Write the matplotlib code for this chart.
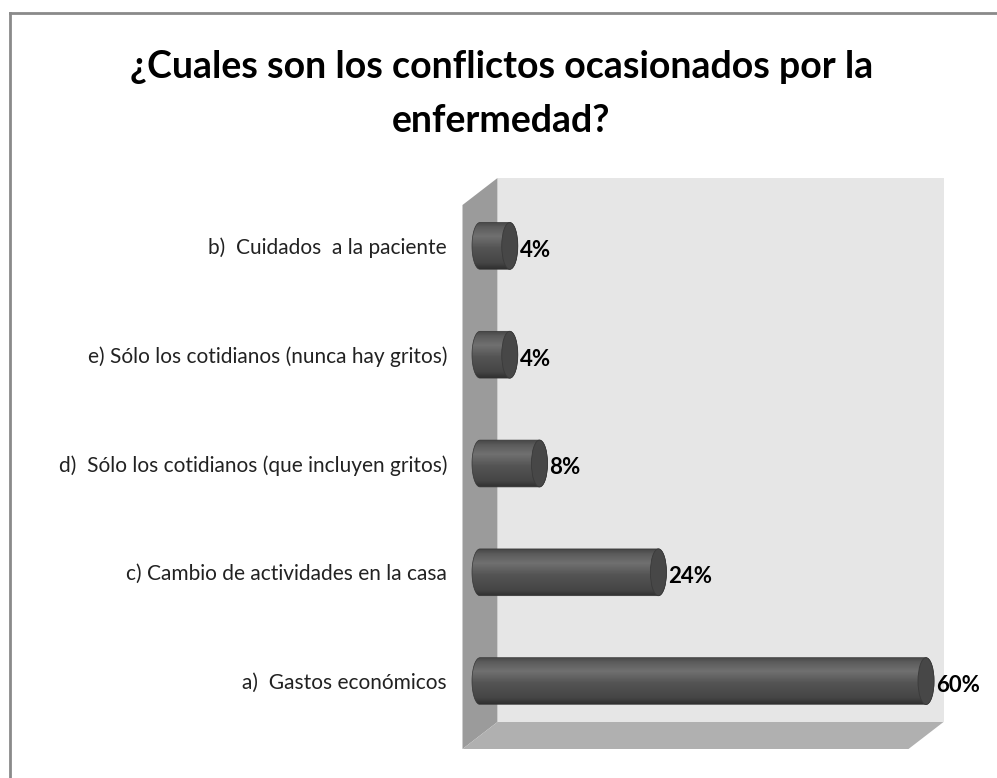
import numpy as np
import matplotlib.pyplot as plt
from matplotlib.patches import Polygon, Ellipse
from matplotlib.lines import Line2D

plt.rcParams['font.family'] = ['Lato', 'DejaVu Sans']

categorias = ['a)  Gastos económicos',
              'c) Cambio de actividades en la casa',
              'd)  Sólo los cotidianos (que incluyen gritos)',
              'e) Sólo los cotidianos (nunca hay gritos)',
              'b)  Cuidados  a la paciente']
porcentajes = [60, 24, 8, 4, 4]
titulo = ['¿Cuales son los conflictos ocasionados por la', 'enfermedad?']

W, H = 997, 778
fig = plt.figure(figsize=(W / 100, H / 100), dpi=100)
fig.patch.set_facecolor('white')

# marco gris arriba y a la izquierda
fig.add_artist(Line2D([10 / W, 1], [1 - 13 / H, 1 - 13 / H], color='#8a8a8a', lw=2))
fig.add_artist(Line2D([10 / W, 10 / W], [0, 1 - 13 / H], color='#8a8a8a', lw=2))

for linea, yb in zip(titulo, [78, 132]):
    fig.text(0.503, 1 - yb / H, linea, ha='center', va='baseline',
             fontsize=27, fontweight='bold')

# escala: 0..60 % ocupa 446 px; margen a los lados para los extremos de los cilindros
px = 446 / 60
m = 1.4
x0 = 480 - m * px
ax = fig.add_axes([x0 / W, (H - 735.5) / H, (446 + 2 * m * px) / W, 544 / H])
ax.set_facecolor('none')
for s in ax.spines.values():
    s.set_visible(False)
ax.set_xticks([])
ax.set_yticks(range(len(categorias)), categorias, fontsize=15, color='#222222')
ax.tick_params(axis='y', length=0, pad=(x0 - 447) / 100 * 72)

# paredes y piso en perspectiva
dx, dy = 17.5 / px, 13.5 / 108.8
y0, y1 = -0.5, 4.5
pared = Polygon([(dx, y0 + dy), (60 + dx, y0 + dy), (60 + dx, y1 + dy), (dx, y1 + dy)],
                fc='#e6e6e6', ec='none', clip_on=False, zorder=0)
lateral = Polygon([(-dx, y0 - dy), (dx, y0 + dy), (dx, y1 + dy), (-dx, y1 - dy)],
                  fc='#9b9b9b', ec='none', clip_on=False, zorder=0)
piso = Polygon([(-dx, y0 - dy), (60 - dx, y0 - dy), (60 + dx, y0 + dy), (dx, y0 + dy)],
               fc='#b0b0b0', ec='none', clip_on=False, zorder=0)
for p in (pared, lateral, piso):
    ax.add_patch(p)

# cilindros
ew = 8 / px
hh = 0.215
stops = [0.0, 0.12, 0.45, 0.7, 0.9, 1.0]
tonos = [0.19, 0.27, 0.33, 0.44, 0.36, 0.28]
perfil = np.interp(np.linspace(0, 1, 64), stops, tonos)
grad = np.repeat(perfil[:, None], 2, axis=1)

t_izq = np.linspace(np.pi / 2, 3 * np.pi / 2, 40)
t_der = np.linspace(-np.pi / 2, np.pi / 2, 40)
for i, v in enumerate(porcentajes):
    xs = np.concatenate([ew * np.cos(t_izq), v + ew * np.cos(t_der)])
    ys = np.concatenate([i + hh * np.sin(t_izq), i + hh * np.sin(t_der)])
    contorno = Polygon(np.column_stack([xs, ys]), closed=True, fc='none',
                       ec='#363636', lw=0.5, zorder=3)
    ax.add_patch(contorno)
    img = ax.imshow(grad, cmap='gray', vmin=0, vmax=1, origin='lower', aspect='auto',
                    extent=[-ew, v + ew, i - hh, i + hh], interpolation='bilinear', zorder=2)
    img.set_clip_path(contorno)
    ax.add_patch(Ellipse((v, i), 2 * ew, 2 * hh, fc='#474747', ec='#3a3a3a',
                         lw=0.6, zorder=4))
    ax.text(v + ew + 0.25, i - 0.04, f'{v}%', ha='left', va='center',
            fontsize=16, fontweight='bold', color='black', zorder=5, clip_on=False)

ax.set_xlim(-m, 60 + m)
ax.set_ylim(y0, y1)

fig.savefig('out.png', dpi=100)
